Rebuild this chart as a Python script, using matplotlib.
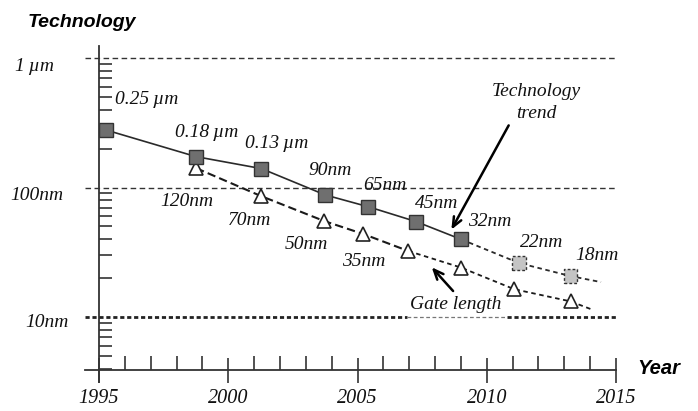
import matplotlib.pyplot as plt
import numpy as np

# данные: технологический узел (квадраты)
tech_year = [1995.27, 1998.76, 2001.28, 2003.76, 2005.42, 2007.26, 2009.02]
tech_nm = [278, 173, 140, 87.5, 71, 54.6, 39.7]
tech_labels = ["0.25\u2009µm", "0.18\u2009µm", "0.13\u2009µm", "90nm", "65nm", "45nm", "32nm"]

# прогноз (светлые квадраты)
proj_year = [2011.25, 2013.24]
proj_nm = [26.1, 20.7]
proj_labels = ["22nm", "18nm"]
trend_end = (2014.42, 18.6)

# длина затвора (треугольники)
gate_year = [1998.76, 2001.26, 2003.72, 2005.23, 2006.97, 2009.0, 2011.06, 2013.24]
gate_nm = [141, 86, 55, 43.7, 32.3, 24.1, 16.4, 13.2]
gate_labels = ["120nm", "70nm", "50nm", "35nm"]
gate_end = (2014.03, 11.5)

years = [1995, 2000, 2005, 2010, 2015]
grid_nm = [1000, 100, 10]
grid_labels = ["1\u2009µm", "100nm", "10nm"]

serif = dict(family="Liberation Serif", style="italic", color="#111111")
sans = dict(family="Liberation Sans", style="italic", weight="bold", color="black")
fs = 14

fig = plt.figure(figsize=(6.98, 4.11), dpi=100)
ax = fig.add_axes([99 / 698, 41 / 411, 517 / 698, 324 / 411])
ax.set_yscale("log")
ax.set_xlim(1995, 2015)
ax.set_ylim(3.897, 1238)
for s in ax.spines.values():
    s.set_visible(False)

# оси
ax.axvline(1995, ymin=-0.037, ymax=1, color="#333333", lw=1.3, clip_on=False)
ax.axhline(3.897, xmin=-0.027, xmax=1, color="#333333", lw=1.3, clip_on=False)

# сетка
ax.axhline(1000, xmin=-0.027, xmax=1, color="#333333", lw=1, ls=(0, (4, 2.5)), clip_on=False)
ax.axhline(100, xmin=-0.027, xmax=1, color="#333333", lw=1, ls=(0, (4, 2.5)), clip_on=False)
ax.axhline(10, xmin=-0.027, xmax=(407 - 99) / 517, color="#222222", lw=2, ls=(0, (1.5, 1)), clip_on=False)
ax.axhline(10, xmin=(407 - 99) / 517, xmax=(507 - 99) / 517, color="#777777", lw=0.9, ls=(0, (3, 2)))
ax.axhline(10, xmin=(507 - 99) / 517, xmax=1, color="#222222", lw=2, ls=(0, (1.5, 1)))

# тики
ax.set_xticks(years)
ax.set_xticks(np.arange(1996, 2015), minor=True)
ax.set_xticklabels([str(y) for y in years], fontsize=14.5, **serif)
ax.tick_params(axis="x", which="major", direction="inout", length=18, width=1.2,
               color="#333333", pad=5)
ax.tick_params(axis="x", which="minor", direction="in", length=10, width=1.2, color="#333333")
ax.set_yticks(grid_nm)
ax.set_yticklabels([])
ax.yaxis.set_minor_locator(plt.matplotlib.ticker.LogLocator(base=10, subs=np.arange(2, 10)))
ax.yaxis.set_minor_formatter(plt.NullFormatter())
ax.tick_params(axis="y", which="major", length=0)
ax.tick_params(axis="y", which="minor", direction="in", length=9.5, width=1.2, color="#333333")

for x, val, lab in zip([1991.75, 1991.55, 1992.15], [867, 87.5, 9.0], grid_labels):
    ax.text(x, val, lab, fontsize=fs, ha="left", va="center", **serif)

# линии
ax.plot(tech_year, tech_nm, color="#2a2a2a", lw=1.2, zorder=3)
ax.plot([tech_year[-1]] + proj_year + [trend_end[0]], [tech_nm[-1]] + proj_nm + [trend_end[1]],
        color="#2a2a2a", lw=1.3, ls=(0, (2.5, 2)), zorder=3)
ax.plot(gate_year[:5], gate_nm[:5], color="#1a1a1a", lw=1.5, ls=(0, (4, 2)), zorder=3)
ax.plot(gate_year[4:] + [gate_end[0]], gate_nm[4:] + [gate_end[1]],
        color="#1a1a1a", lw=1.3, ls=(0, (2.5, 2)), zorder=3)

# маркеры
ax.plot(gate_year, gate_nm, ls="none", marker="^", ms=9.5, mfc="white", mec="#222222",
        mew=1.2, zorder=4)
ax.plot(tech_year, tech_nm, ls="none", marker="s", ms=9.5, mfc="#6f6f6f", mec="#333333",
        mew=1, zorder=5)
ax.scatter(proj_year, proj_nm, marker="s", s=92, c="#c4c4c4", edgecolors="#333333",
           linewidths=1, linestyles=(0, (2, 1.5)), zorder=5)

# подписи точек
tech_pos = [(1995.62, 474), (1997.94, 264), (2000.65, 217), (2003.12, 136),
            (2005.21, 104.5), (2007.22, 74.7), (2009.27, 54.2)]
for (x, y), lab in zip(tech_pos, tech_labels):
    ax.text(x, y, lab, fontsize=fs, ha="left", va="center", **serif)
for (x, y), lab in zip([(2011.29, 37.3), (2013.41, 29.6)], proj_labels):
    ax.text(x, y, lab, fontsize=fs, ha="left", va="center", **serif)
gate_pos = [(1997.36, 77.3), (1999.99, 56.1), (2002.2, 36.6), (2004.4, 26.6)]
for (x, y), lab in zip(gate_pos, gate_labels):
    ax.text(x, y, lab, fontsize=fs, ha="left", va="center", **serif)

ax.text(2011.9, 556, "Technology", fontsize=fs, ha="center", va="center", **serif)
ax.text(2011.9, 376, "trend", fontsize=fs, ha="center", va="center", **serif)
ax.text(2007.03, 12.4, "Gate length", fontsize=fs, ha="left", va="center", **serif)

ax.annotate("", xy=(2008.58, 45.3), xytext=(2010.9, 315),
            arrowprops=dict(arrowstyle="->,head_length=0.7,head_width=0.3", lw=1.8, color="black"))
ax.annotate("", xy=(2007.8, 25.1), xytext=(2008.77, 15.3),
            arrowprops=dict(arrowstyle="->,head_length=0.7,head_width=0.3", lw=1.8, color="black"))

fig.text(28 / 698, (411 - 27) / 411, "Technology", fontsize=14, ha="left", va="baseline", **sans)
ax.text(1.0406, 0.006, "Year", transform=ax.transAxes, fontsize=14.5, ha="left", va="center", **sans)

plt.savefig("out.png", dpi=100)
